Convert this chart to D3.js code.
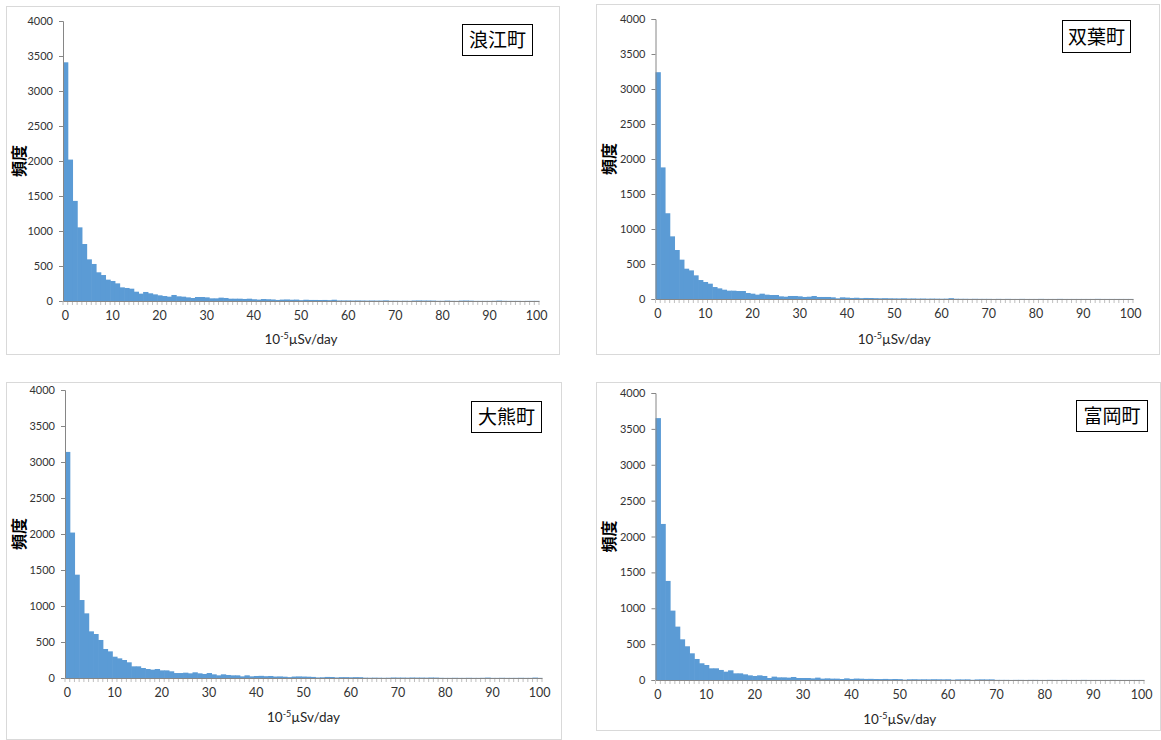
<!DOCTYPE html>
<html>
<head>
<meta charset="utf-8">
<script src="https://cdn.jsdelivr.net/npm/d3@7"></script>
<style>
body { margin:0; background:#ffffff; }
svg { display:block; }
.tick text { font-family: Lato, "Open Sans", sans-serif; fill:#333333; }
</style>
</head>
<body>
<svg id="chart"></svg>
<script>
// bins 0..100 (10^-5 uSv/day)
var bins = d3.range(0, 101);
var xTickLabels = [0,10,20,30,40,50,60,70,80,90,100];
var yTickLabels = [0,500,1000,1500,2000,2500,3000,3500,4000];

var towns = ["浪江町","双葉町","大熊町","富岡町"];

var namie = [3410,2020,1430,1052,814,595,529,410,371,305,
             286,252,195,186,176,133,105,129,110,95,
             81,71,62,86,67,62,52,43,57,57,
             52,38,38,48,43,33,33,33,29,33,
             25,20,28,25,22,15,20,22,18,20,
             12,18,15,15,14,15,12,18,8,8,
             8,7,8,7,6,7,6,6,9,4,
             4,3,4,3,7,8,7,7,6,3,
             3,6,3,2,6,7,5,2,2,2,
             2,3,6,3,2,2,2,1,2,2,2];

var futaba = [3240,1880,1225,895,700,562,433,409,338,271,
              243,219,171,152,133,119,119,114,114,86,
              76,62,76,62,57,57,38,33,43,43,
              38,29,33,43,29,29,29,24,10,24,
              20,15,18,12,15,14,12,10,12,10,
              9,8,10,7,8,6,7,5,6,5,
              4,5,12,4,3,3,2,3,2,2,
              2,1,2,1,2,1,1,2,1,1,
              1,2,1,1,1,2,1,1,1,1,
              1,1,1,2,1,1,1,1,1,1,1];

var okuma = [3140,2020,1435,1083,898,648,611,528,403,370,
             296,273,250,218,162,162,139,125,116,125,
             106,106,93,69,69,74,65,79,65,56,
             69,51,37,51,42,37,37,23,37,23,
             28,30,25,28,20,22,18,12,20,22,
             20,18,15,8,10,15,14,8,12,12,
             10,12,11,5,4,5,4,3,4,7,
             6,6,5,7,6,6,5,7,6,3,
             2,2,3,2,2,3,2,2,3,6,
             2,2,3,2,2,2,3,2,2,6,2];

var tomioka = [3650,2175,1381,967,744,567,470,372,293,233,
               209,163,163,140,116,135,93,93,79,65,
               56,65,56,28,47,37,37,33,42,28,
               28,28,23,33,19,23,19,19,14,23,
               15,20,18,15,16,14,13,15,12,14,
               12,5,10,11,9,10,9,11,10,9,
               10,4,9,8,9,3,8,9,8,9,
               2,2,2,1,2,2,1,2,2,1,
               1,2,1,1,2,1,1,1,2,1,
               1,1,1,1,2,1,1,1,1,1,1];

var series = [namie, futaba, okuma, tomioka];

// where each chart sits on the page
var layout = [
    {box:[6,6,559,354],    plot:[63,21,539,301],     tag:[462,24,532,55],    xlab:344},
    {box:[596,4,1159,354], plot:[655.5,19,1133,299], tag:[1062,20,1130,52],  xlab:344},
    {box:[6,382,561,739],  plot:[65,390,542,678],    tag:[471,401,541,432],  xlab:722},
    {box:[596,382,1160,730], plot:[655.5,393,1144,680], tag:[1076,400,1147,431], xlab:724}
];

var drawPanel = function(svg, counts, name, lay)
{
    var g = svg.append("g").classed("panel", true);

    g.append("rect")
        .attr("x", lay.box[0] + 0.5)
        .attr("y", lay.box[1] + 0.5)
        .attr("width", lay.box[2] - lay.box[0])
        .attr("height", lay.box[3] - lay.box[1])
        .attr("fill", "#ffffff")
        .attr("stroke", "#d9d9d9")
        .attr("stroke-width", 1);

    var left = lay.plot[0], top = lay.plot[1], right = lay.plot[2], bottom = lay.plot[3];

    var xScale = d3.scaleBand()
        .domain(bins)
        .range([left, right])
        .padding(0);

    var yScale = d3.scaleLinear()
        .domain([0, 4000])
        .range([bottom, top]);

    // bars
    g.append("g")
        .selectAll("rect")
        .data(counts)
        .enter()
        .append("rect")
        .attr("x", function(d, i) { return xScale(bins[i]); })
        .attr("y", function(d) { return yScale(d); })
        .attr("width", xScale.bandwidth() + 0.6)
        .attr("height", function(d) { return yScale(0) - yScale(d); })
        .attr("fill", "#5b9bd5");

    // y axis
    var yAxis = d3.axisLeft(yScale)
        .tickValues(yTickLabels)
        .tickSize(4)
        .tickPadding(6)
        .tickFormat(d3.format("d"));

    var ya = g.append("g")
        .attr("transform", "translate(" + left + ",0)")
        .call(yAxis);
    ya.select(".domain").attr("stroke", "#868686");
    ya.selectAll(".tick line").attr("stroke", "#868686");
    ya.selectAll(".tick text").style("font-size", "11px");

    // x axis: small marks between every bin
    var xa = g.append("g")
        .attr("transform", "translate(0," + bottom + ")");

    xa.selectAll("line.minor")
        .data(bins.concat([101]))
        .enter()
        .append("line")
        .classed("minor", true)
        .attr("x1", function(d) { return d <= 100 ? xScale(d) : right; })
        .attr("x2", function(d) { return d <= 100 ? xScale(d) : right; })
        .attr("y1", 0)
        .attr("y2", 4)
        .attr("stroke", "#bfbfbf")
        .attr("stroke-width", 1);

    var xAxis = d3.axisBottom(xScale)
        .tickValues(xTickLabels)
        .tickSize(0)
        .tickPadding(10)
        .tickSizeOuter(0);

    var xg = xa.append("g").call(xAxis);
    xg.select(".domain").attr("stroke", "#868686");
    xg.selectAll(".tick text").style("font-size", "12.5px");

    // axis titles
    var xTitle = g.append("text")
        .attr("x", (left + right) / 2)
        .attr("y", lay.xlab)
        .attr("text-anchor", "middle")
        .style("font-family", "Lato, 'Open Sans', sans-serif")
        .style("font-size", "13.5px")
        .attr("fill", "#262626");
    xTitle.append("tspan").text("10");
    xTitle.append("tspan").text("-5").attr("dy", -5).style("font-size", "9px");
    xTitle.append("tspan").text("µSv/day").attr("dy", 5);

    g.append("text")
        .text("頻度")
        .attr("text-anchor", "middle")
        .attr("transform", "translate(" + (lay.box[0] + 13) + "," + ((top + bottom) / 2) + ") rotate(-90)")
        .attr("dy", "0.35em")
        .style("font-family", "'Noto Sans CJK JP', sans-serif")
        .style("font-weight", "bold")
        .style("font-size", "16px")
        .attr("fill", "#000000");

    // town name box
    g.append("rect")
        .attr("x", lay.tag[0] + 0.5)
        .attr("y", lay.tag[1] + 0.5)
        .attr("width", lay.tag[2] - lay.tag[0])
        .attr("height", lay.tag[3] - lay.tag[1])
        .attr("fill", "#ffffff")
        .attr("stroke", "#000000")
        .attr("stroke-width", 1);

    g.append("text")
        .text(name)
        .attr("x", (lay.tag[0] + lay.tag[2]) / 2 + 0.5)
        .attr("y", (lay.tag[1] + lay.tag[3]) / 2 + 1)
        .attr("dy", "0.35em")
        .attr("text-anchor", "middle")
        .style("font-family", "'Noto Sans CJK JP', sans-serif")
        .style("font-size", "19px")
        .attr("fill", "#000000");
}

var initGraph = function()
{
    var screen = {width:1161, height:740};

    var svg = d3.select("#chart")
        .attr("width", screen.width)
        .attr("height", screen.height);

    series.forEach(function(counts, i)
    {
        drawPanel(svg, counts, towns[i], layout[i]);
    });
}

initGraph();
</script>
</body>
</html>
